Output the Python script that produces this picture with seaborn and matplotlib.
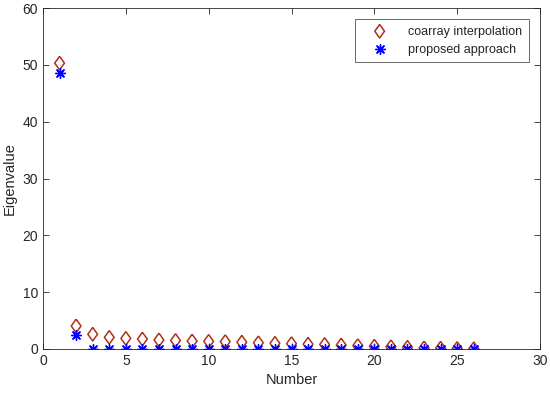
import numpy as np
import pandas as pd
import matplotlib
matplotlib.use("Agg")
import matplotlib.pyplot as plt
import seaborn as sns

# Datos
number = list(range(1, 27))
coarray = [50.3, 4.05, 2.6, 2.05, 1.87, 1.75, 1.6, 1.5, 1.4, 1.35, 1.3, 1.2, 1.1,
           1.0, 0.95, 0.85, 0.8, 0.7, 0.6, 0.5, 0.4, 0.3, 0.2, 0.15, 0.1, 0.05]
proposed = [48.5, 2.4] + [0.05] * 24

sns.set_style("ticks")
plt.rcParams["font.family"] = ["Liberation Sans", "DejaVu Sans"]

df = pd.DataFrame({"Number": number, "coarray": coarray, "proposed": proposed})

# rombo estilo MATLAB (algo más alto que ancho)
rombo = [(0, 1), (0.72, 0), (0, -1), (-0.72, 0), (0, 1)]

fig = plt.figure(figsize=(5.5, 3.95), dpi=100)
ax = fig.add_axes([43 / 550, 1 - 349 / 395, 497 / 550, 341 / 395])

sns.scatterplot(data=df, x="Number", y="coarray", ax=ax, marker=rombo,
                facecolor="none", edgecolor="#b03018", linewidth=1.1, s=95,
                label="coarray interpolation")
sns.scatterplot(data=df, x="Number", y="proposed", ax=ax, marker=(8, 2, 0),
                color="#0000ff", linewidth=1.0, s=50, label="proposed approach")

ax.set_xlim(0, 30)
ax.set_ylim(0, 60)
ax.set_xticks(range(0, 31, 5))
ax.set_yticks(range(0, 61, 10))
ax.set_xlabel("Number", fontsize=10.5)
ax.set_ylabel("Eigenvalue", fontsize=10.5)
ax.tick_params(direction="in", top=True, right=True, labelsize=10, length=4,
               color="#262626", width=0.6)
for sp in ax.spines.values():
    sp.set_visible(True)
    sp.set_linewidth(0.6)
    sp.set_color("#262626")

leg = ax.legend(loc="upper right", fontsize=9, frameon=True, fancybox=False,
                edgecolor="#262626", borderpad=0.5, handlelength=3.0,
                handletextpad=0.8, borderaxespad=0.9)
leg.get_frame().set_linewidth(0.6)

fig.savefig("out.png", dpi=100)
plt.close(fig)
